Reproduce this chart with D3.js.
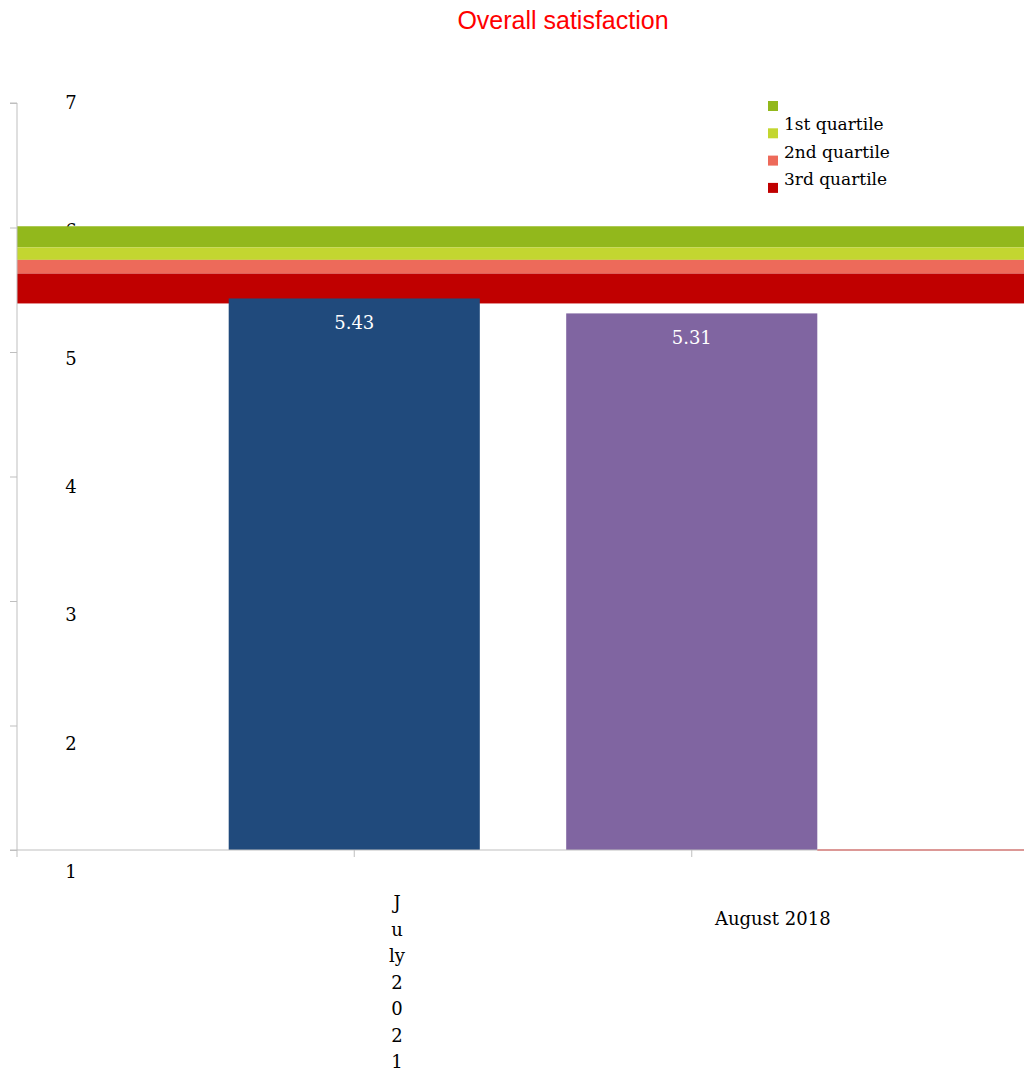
<!DOCTYPE html>
<html>
<head>
<meta charset="utf-8">
<script src="https://cdn.jsdelivr.net/npm/d3@7"></script>
<style>
  body { margin: 0; background: #fff; }
  svg text { font-family: "DejaVu Serif", serif; }
</style>
</head>
<body>
<svg id="chart" width="1024" height="1078"></svg>
<script>
const months = ["July 2021", "August 2018"]
const scores = [5.43, 5.31]
const barColors = ["#204a7c", "#8065a1"]

const quartiles = ["", "1st quartile", "2nd quartile", "3rd quartile"]
const quartileTop = [6.01, 5.84, 5.74, 5.63]
const quartileBottom = [5.84, 5.74, 5.63, 5.39]
const quartileColors = ["#92b81c", "#c3d630", "#ed6a5a", "#c00000"]

const yTicks = [1, 2, 3, 4, 5, 6, 7]

const svg = d3.select("#chart")

const plotLeft = 17, plotRight = 1024, plotTop = 103, plotBottom = 850

let y = d3.scaleLinear()
  .domain([1, 7])
  .range([plotBottom, plotTop])

let x = d3.scaleBand()
  .domain(months)
  .range([185.5, 860.5])
  .paddingInner(0.256)
  .paddingOuter(0.128)

// title
svg.append("text")
  .attr("x", 563)
  .attr("y", 29)
  .attr("text-anchor", "middle")
  .style("font-family", "'Liberation Sans', Arial, sans-serif")
  .style("font-size", "25px")
  .style("fill", "#ff0000")
  .text("Overall satisfaction")

// y labels (drawn a bit lower than their ticks, like the original; "6" ends up under the bands)
svg.selectAll("text.ylab").data(yTicks)
  .enter().append("text")
    .attr("class", "ylab")
    .attr("x", 71)
    .attr("y", d => y(d) + 6 + (7 - d) * 3.6)
    .attr("text-anchor", "middle")
    .style("font-size", "18px")
    .style("fill", "#000")
    .text(d => d)

// quartile bands
svg.selectAll("rect.band").data(quartiles)
  .enter().append("rect")
    .attr("class", "band")
    .attr("x", plotLeft)
    .attr("width", plotRight - plotLeft)
    .attr("y", (d, i) => y(quartileTop[i]))
    .attr("height", (d, i) => y(quartileBottom[i]) - y(quartileTop[i]))
    .style("fill", (d, i) => quartileColors[i])

// bars
svg.selectAll("rect.bar").data(months)
  .enter().append("rect")
    .attr("class", "bar")
    .attr("x", d => x(d))
    .attr("width", x.bandwidth())
    .attr("y", (d, i) => y(scores[i]))
    .attr("height", (d, i) => y(1) - y(scores[i]))
    .style("fill", (d, i) => barColors[i])

// value labels
svg.selectAll("text.val").data(months)
  .enter().append("text")
    .attr("class", "val")
    .attr("x", d => x(d) + x.bandwidth() / 2)
    .attr("y", (d, i) => y(scores[i]) + 31)
    .attr("text-anchor", "middle")
    .style("font-size", "18px")
    .style("fill", "#fff")
    .text((d, i) => scores[i].toFixed(2))

// y axis
let yAxis = d3.axisLeft(y)
  .tickValues(yTicks)
  .tickSize(7)
  .tickFormat("")
let gy = svg.append("g")
  .attr("transform", `translate(${plotLeft},0)`)
  .call(yAxis)
gy.select(".domain").attr("stroke", "#bfbfbf").attr("d", `M-7,${plotTop}H0V${plotBottom}`)
gy.selectAll(".tick line").attr("stroke", "#bfbfbf")

// x axis
svg.append("line")
  .attr("x1", 10).attr("x2", plotRight)
  .attr("y1", plotBottom).attr("y2", plotBottom)
  .attr("stroke", "#bfbfbf")
svg.selectAll("line.xtick").data([plotLeft, x(months[0]) + x.bandwidth() / 2, x(months[1]) + x.bandwidth() / 2])
  .enter().append("line")
    .attr("class", "xtick")
    .attr("x1", d => d).attr("x2", d => d)
    .attr("y1", plotBottom).attr("y2", plotBottom + 7)
    .attr("stroke", "#bfbfbf")
svg.append("line")
  .attr("x1", x(months[1]) + x.bandwidth()).attr("x2", plotRight)
  .attr("y1", plotBottom).attr("y2", plotBottom)
  .attr("stroke", "#d9534f")
  .attr("stroke-width", 1.2)

// x labels: first one wrapped into a narrow column
const julyLines = ["J", "u", "ly", "2", "0", "2", "1"]
let jl = svg.append("text")
  .attr("text-anchor", "middle")
  .style("font-size", "18px")
julyLines.forEach((s, i) => {
  jl.append("tspan")
    .attr("x", 397)
    .attr("y", 909 + i * 26.5)
    .text(s)
})
svg.append("text")
  .attr("x", x(months[1]) + x.bandwidth() / 2 + 81)
  .attr("y", 925)
  .attr("text-anchor", "middle")
  .style("font-size", "18px")
  .text(months[1])

// legend
let legend = svg.selectAll("g.leg").data(quartiles)
  .enter().append("g")
    .attr("class", "leg")
    .attr("transform", (d, i) => `translate(768,${101 + i * 27.3})`)
legend.append("rect")
  .attr("width", 10).attr("height", 10)
  .style("fill", (d, i) => quartileColors[i])
legend.append("text")
  .attr("x", 16)
  .attr("y", 2)
  .style("font-size", "17px")
  .text(d => d)
</script>
</body>
</html>
